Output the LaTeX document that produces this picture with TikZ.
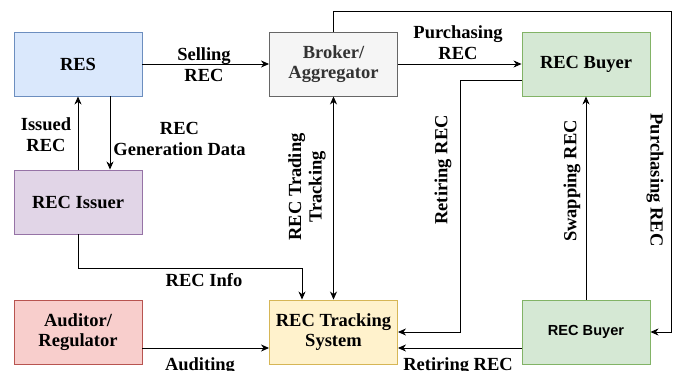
\documentclass[tikz,border=0pt]{standalone}
\usepackage{fontspec}
\setmainfont{Liberation Serif}
\newfontfamily\sansb{Liberation Sans}
\usetikzlibrary{arrows.meta}
\definecolor{blueF}{HTML}{DAE8FC}\definecolor{blueD}{HTML}{6C8EBF}
\definecolor{grayF}{HTML}{F5F5F5}\definecolor{grayD}{HTML}{666666}
\definecolor{greenF}{HTML}{D5E8D4}\definecolor{greenD}{HTML}{82B366}
\definecolor{purpF}{HTML}{E1D5E7}\definecolor{purpD}{HTML}{9673A6}
\definecolor{redF}{HTML}{F8CECC}\definecolor{redD}{HTML}{B85450}
\definecolor{yelF}{HTML}{FFF2CC}\definecolor{yelD}{HTML}{D6B656}
\definecolor{txtG}{HTML}{333333}
\begin{document}
\begin{tikzpicture}[x=1pt,y=-1pt,
  font=\fontsize{18.5}{20.7}\selectfont\bfseries,
  box/.style={rectangle,draw,line width=0.9pt,minimum width=128pt,minimum height=64pt,
    align=center,inner sep=0pt},
  lbl/.style={align=center,inner sep=0pt},
  conn/.style={line width=0.9pt,line join=miter},
  arr/.style={conn,-{Stealth[length=8pt,width=7pt,inset=2.5pt]}},
  biarr/.style={conn,{Stealth[length=8pt,width=7pt,inset=2.5pt]}-{Stealth[length=8pt,width=7pt,inset=2.5pt]}}]
\useasboundingbox (0,0) rectangle (678,371);

% entities
\node[box,fill=blueF,draw=blueD] (res) at (78,64) {RES};
\node[box,fill=grayF,draw=grayD,text=txtG] (brk) at (333.5,64) {Broker/\\Aggregator};
\node[box,fill=greenF,draw=greenD] (by1) at (586,64) {REC Buyer};
\node[box,fill=purpF,draw=purpD] (iss) at (78,202) {REC Issuer};
\node[box,fill=redF,draw=redD] (aud) at (78,332) {Auditor/\\Regulator};
\node[box,fill=yelF,draw=yelD] (trk) at (333.5,332) {REC Tracking\\System};
\node[box,fill=greenF,draw=greenD,font=\sansb\bfseries\fontsize{14.6}{17}\selectfont] (by2) at (586,332) {REC Buyer};

% bend points
\coordinate (i1) at (78,268);
\coordinate (i2) at (302,268);
\coordinate (t1) at (333.5,11);
\coordinate (t2) at (671,11);
\coordinate (t3) at (671,332);
\coordinate (r1) at (460,80);
\coordinate (r2) at (460,332);

% connectors
\draw[arr] (res.east) -- (brk.west);
\draw[arr] (iss.north) -- (res.south);
\draw[arr] ([xshift=32pt]res.south) -- ([xshift=32pt]iss.north);
\draw[arr] (iss.south) -- (i1) -- (i2) -- ([xshift=-31.5pt]trk.north);
\draw[biarr] (brk.south) -- (trk.north);
\draw[arr] (brk.east) -- (by1.west);
\draw[arr] (brk.north) -- (t1) -- (t2) -- (t3) -- (by2.east);
\draw[arr] ([yshift=-16pt]by1.west) -- (r1) -- (r2) -- (trk.east);
\draw[arr] (by2.north) -- (by1.south);
\draw[arr] ([yshift=-16pt]by2.west) -- ([yshift=-16pt]trk.east);
\draw[arr] ([yshift=-16pt]aud.east) -- ([yshift=-16pt]trk.west);

% connector labels
\node[lbl] (lsell) at (204,65) {Selling\\REC};
\node[lbl] (liss) at (46,135) {Issued\\REC};
\node[lbl] (lgen) at (179.5,139) {REC\\Generation Data};
\node[lbl] (linfo) at (204,280) {REC Info};
\node[lbl,anchor=north] (laud) at (200,357) {Auditing};
\node[lbl,anchor=north] (lret2) at (458,357) {Retiring REC};
\node[lbl] (lpur1) at (458,43) {Purchasing\\REC};
\node[lbl,rotate=90] (ltrd) at (307,187) {REC Trading\\Tracking};
\node[lbl,rotate=90] (lret1) at (443,170) {Retiring REC};
\node[lbl,rotate=90] (lswp) at (572,181) {Swapping REC};
\node[lbl,rotate=-90] (lpur2) at (655,180) {Purchasing REC};
\end{tikzpicture}
\end{document}
